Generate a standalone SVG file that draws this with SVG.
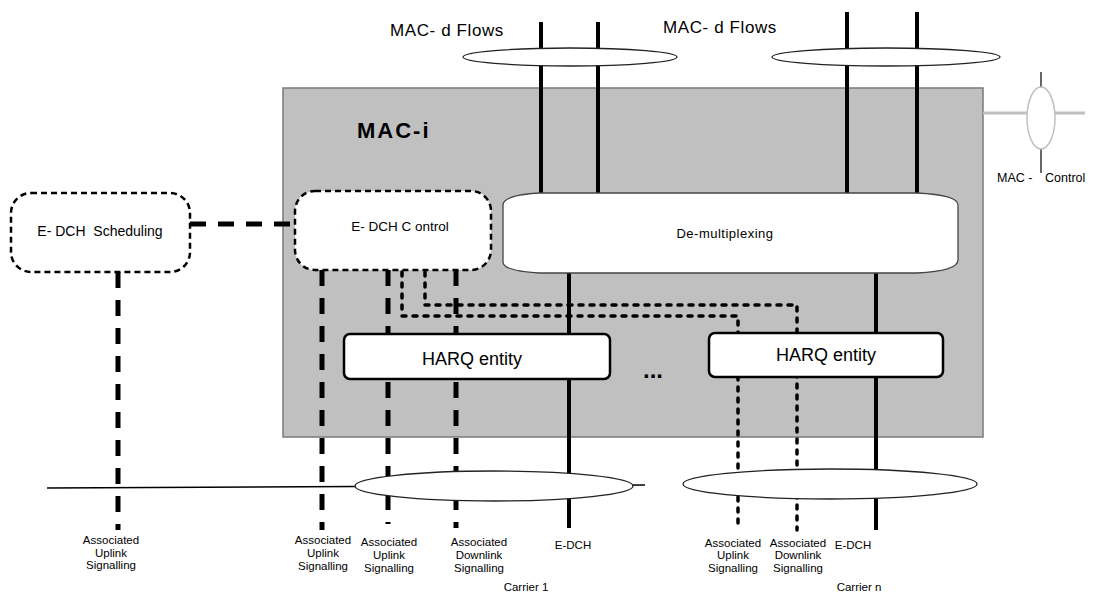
<svg xmlns="http://www.w3.org/2000/svg" width="1096" height="595" viewBox="0 0 1096 595">
<style>
text{font-family:"Liberation Sans",Arial,sans-serif;fill:#000}
.solid{stroke:#000;stroke-width:4;fill:none}
.heavy{stroke:#000;stroke-width:5;fill:none;stroke-dasharray:16 12}
.dot{stroke:#000;stroke-width:3.5;fill:none;stroke-dasharray:4 7;stroke-linecap:round;stroke-linejoin:round}
.ell{fill:#fff;stroke:#222;stroke-width:1.3}
.dbox{fill:#fff;stroke:#000;stroke-width:2.5;stroke-dasharray:6 4}
.harq{fill:#fff;stroke:#000;stroke-width:2.5}
.lbl{font-size:11.5px;text-anchor:middle}
</style>
<rect width="1096" height="595" fill="#fff"/>
<g id="mac-i">
<rect x="283" y="88" width="700" height="349" fill="#c0c0c0" stroke="#7a7a7a" stroke-width="1.5"/>
<text x="357" y="138" font-size="22" font-weight="bold" letter-spacing="2">MAC-i</text>
</g>
<g id="connectors">
<line x1="47" y1="488" x2="645" y2="485" stroke="#000" stroke-width="1.5"/>
<path class="solid" d="M541,22V193M598,22V193M847,12V193M917,12V193M569,273V528M876,273V530"/>
<path class="heavy" d="M190,224H295M118,272V530M322,270V530M388,270V524M456,270V528"/>
<path class="dot" d="M402,272V316H738V530M425,272V305H797V530"/>
<line x1="983" y1="113" x2="1085" y2="113" stroke="#c0c0c0" stroke-width="3"/>
<line x1="1041" y1="72" x2="1041" y2="173" stroke="#333" stroke-width="1.5"/>
</g>
<g id="flows-1"><ellipse class="ell" cx="570" cy="57" rx="107" ry="9"/><text x="390" y="36" font-size="17" letter-spacing="0.6">MAC- d Flows</text></g>
<g id="flows-n"><ellipse class="ell" cx="886" cy="57" rx="114" ry="9"/><text x="663" y="33" font-size="17" letter-spacing="0.6">MAC- d Flows</text></g>
<g id="carrier-1"><ellipse class="ell" cx="494" cy="486" rx="139" ry="15"/><text x="526" y="591" class="lbl">Carrier 1</text></g>
<g id="carrier-n"><ellipse class="ell" cx="830" cy="484" rx="147" ry="15"/><text x="859" y="591" class="lbl">Carrier n</text></g>
<g id="mac-control"><ellipse cx="1041" cy="118" rx="14" ry="31" fill="#fff" stroke="#c0c0c0" stroke-width="1.5"/><text x="997" y="182" font-size="12.5">MAC -</text><text x="1045" y="182" font-size="12.5">Control</text></g>
<g id="edch-scheduling"><rect class="dbox" x="11" y="193" width="179" height="79" rx="20"/><text x="100" y="236" font-size="14" text-anchor="middle" xml:space="preserve">E- DCH  Scheduling</text></g>
<g id="edch-control"><rect class="dbox" x="295" y="191" width="196" height="79" rx="20"/><text x="400" y="231" font-size="13.5" text-anchor="middle">E- DCH C ontrol</text></g>
<g id="demux"><path d="M540,193H917Q958,195 958,205V260Q958,271 917,273H540Q503,271 503,262V205Q503,195 540,193Z" fill="#fff" stroke="#444" stroke-width="1.3"/><text x="725" y="238" font-size="13" text-anchor="middle" letter-spacing="0.5">De-multiplexing</text></g>
<g id="harq-1"><rect class="harq" x="344" y="334" width="266" height="45" rx="6"/><text x="472" y="365" font-size="18" text-anchor="middle">HARQ entity</text></g>
<g id="harq-n"><rect class="harq" x="709" y="333" width="234" height="44" rx="6"/><text x="826" y="361" font-size="18" text-anchor="middle">HARQ entity</text></g>
<g id="ellipsis"><text x="653" y="378" font-size="24" font-weight="bold" text-anchor="middle">...</text></g>
<g id="labels">
<text class="lbl" x="111" y="544">Associated<tspan x="111" dy="12.5">Uplink</tspan><tspan x="111" dy="12.5">Signalling</tspan></text>
<text class="lbl" x="323" y="544">Associated<tspan x="323" dy="13">Uplink</tspan><tspan x="323" dy="13">Signalling</tspan></text>
<text class="lbl" x="389" y="546">Associated<tspan x="389" dy="13">Uplink</tspan><tspan x="389" dy="13">Signalling</tspan></text>
<text class="lbl" x="479" y="546">Associated<tspan x="479" dy="13">Downlink</tspan><tspan x="479" dy="13">Signalling</tspan></text>
<text class="lbl" x="573" y="549">E-DCH</text>
<text class="lbl" x="733" y="547">Associated<tspan x="733" dy="12">Uplink</tspan><tspan x="733" dy="13">Signalling</tspan></text>
<text class="lbl" x="798" y="547">Associated<tspan x="798" dy="12">Downlink</tspan><tspan x="798" dy="13">Signalling</tspan></text>
<text class="lbl" x="853" y="549">E-DCH</text>
</g>
</svg>
